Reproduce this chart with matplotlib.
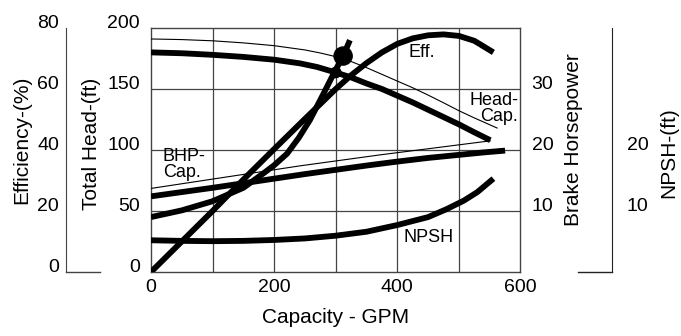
import matplotlib
matplotlib.use('Agg')
import matplotlib.pyplot as plt
from matplotlib.transforms import offset_copy

plt.rcParams['font.family'] = ['Liberation Sans', 'DejaVu Sans']

# pump data
head_flow = [0, 50, 100, 150, 200, 242, 270, 300, 325, 350, 375, 400, 425, 450, 475, 500, 525, 551]
head_ft = [180, 179.3, 178, 176.3, 174, 171, 168, 163.5, 159.5, 154.5, 150, 144.5, 139, 133, 127, 121, 114.5, 108]

head2_flow = [0, 50, 100, 150, 200, 250, 275, 300, 325, 350, 375, 400, 425, 450, 475, 500, 525, 562]
head2_ft = [191, 190.5, 189.5, 187.8, 185.5, 182, 179.5, 176.5, 172.5, 167.5, 162, 156.5, 151, 145, 138.7, 132.2, 126.3, 118]

bhp_flow = [0, 50, 100, 150, 200, 250, 300, 350, 400, 450, 500, 540, 575]
bhp_hp = [12.4, 13.1, 13.8, 14.55, 15.3, 16.05, 16.75, 17.45, 18.1, 18.7, 19.2, 19.6, 19.9]

bhp2_flow = [0, 242, 372, 551]
bhp2_hp = [13.7, 17.4, 19.2, 21.5]

eff_flow = [0, 50, 100, 150, 200, 250, 300, 325, 350, 375, 400, 425, 450, 475, 500, 525, 556]
eff_pct = [0, 10, 20, 30.3, 40.3, 50.2, 60, 64.5, 68.5, 72, 74.8, 76.6, 77.6, 77.9, 77.4, 75.8, 72]

sys_flow = [0, 50, 100, 150, 183, 200, 221, 240, 258, 280, 296, 312, 323]
sys_ft = [45, 50.5, 58, 69, 81, 87.5, 97, 110, 124.5, 146, 162, 177, 190]

npsh_flow = [0, 50, 100, 150, 200, 250, 300, 350, 400, 450, 480, 508, 530, 556]
npsh_ft = [5.2, 5.1, 5.05, 5.1, 5.25, 5.5, 5.95, 6.6, 7.7, 9.0, 10.3, 11.7, 13.1, 15.3]

op_flow = [300, 312]
op_head = [163.5, 177]
op_size = [55, 170]

head_ticks = [0, 50, 100, 150, 200]
flow_ticks = [0, 200, 400, 600]
flow_grid = [100, 200, 300, 400, 500]
eff_ticks = [0, 20, 40, 60, 80]
bhp_ticks = [10, 20, 30]
npsh_ticks = [10, 20]

fig = plt.figure(figsize=(6.81, 3.36), dpi=100)
ax = fig.add_axes([0.2217, 0.1905, 0.5426, 0.7262])
ax.set_xlim(0, 600)
ax.set_ylim(0, 200)

gc = '#444444'
for s in ax.spines.values():
    s.set_color(gc)
    s.set_linewidth(1.0)
for g in flow_grid:
    ax.axvline(g, color=gc, lw=0.9, zorder=1)
for g in head_ticks[1:-1]:
    ax.axhline(g, color=gc, lw=0.9, zorder=1)

ax.set_xticks(flow_ticks)
ax.set_yticks(head_ticks)
ax.tick_params(axis='y', length=0, labelsize=14, pad=8)
ax.tick_params(axis='x', length=0, labelsize=14, pad=5)
ax.set_xlabel('Capacity - GPM', fontsize=15, va='center')
ax.xaxis.set_label_coords(0.5, -0.185)
ax.set_ylabel('Total Head-(ft)', fontsize=15, va='center')
ax.yaxis.set_label_coords(-0.16, 0.525)

# twin scales
ax_bhp = ax.twinx()
ax_bhp.set_ylim(0, 40)
ax_bhp.set_yticks(bhp_ticks)
ax_bhp.tick_params(length=0, labelsize=14, pad=8)
for s in ax_bhp.spines.values():
    s.set_visible(False)
ax_bhp.set_ylabel('Brake Horsepower', fontsize=15, va='center')
ax_bhp.yaxis.set_label_coords(1.144, 0.541)

ax_eff = ax.twinx()
ax_eff.set_ylim(0, 80)
ax_eff.yaxis.set_ticks_position('left')
ax_eff.yaxis.set_label_position('left')
for k in ['top', 'bottom', 'right']:
    ax_eff.spines[k].set_visible(False)
ax_eff.spines['left'].set_position(('axes', -0.2304))
ax_eff.spines['left'].set_color(gc)
ax_eff.set_yticks(eff_ticks)
ax_eff.tick_params(length=0, labelsize=14, pad=5)
ax_eff.set_ylabel('Efficiency-(%)', fontsize=15, va='center')
ax_eff.yaxis.set_label_coords(-0.35, 0.541)
ax_eff.plot([-0.2304, -0.138], [0, 0], transform=ax_eff.transAxes,
            color=gc, lw=1.0, clip_on=False)

ax_npsh = ax.twinx()
ax_npsh.set_ylim(0, 40)
for k in ['top', 'bottom', 'left']:
    ax_npsh.spines[k].set_visible(False)
ax_npsh.spines['right'].set_position(('axes', 1.2466))
ax_npsh.spines['right'].set_color('#222222')
ax_npsh.set_yticks(npsh_ticks)
ax_npsh.tick_params(length=0, labelsize=14, pad=11)
ax_npsh.set_ylabel('NPSH-(ft)', fontsize=15, va='center')
ax_npsh.yaxis.set_label_coords(1.401, 0.488)
ax_npsh.plot([1.155, 1.2466], [0, 0], transform=ax_npsh.transAxes,
             color='#222222', lw=1.0, clip_on=False)

# tick labels sit a bit above their values
for a in [ax, ax_bhp, ax_eff, ax_npsh]:
    for t in a.yaxis.get_major_ticks():
        for lab in (t.label1, t.label2):
            lab.set_transform(offset_copy(lab.get_transform(), fig=fig, y=6, units='dots'))

# curves
thick = dict(color='black', lw=4.2, solid_capstyle='butt', solid_joinstyle='round', zorder=3)
thin = dict(color='black', lw=0.8, zorder=3)
ax.plot(head2_flow, head2_ft, **thin)
ax.plot(head_flow, head_ft, **thick)
ax_bhp.plot(bhp2_flow, bhp2_hp, **thin)
ax_bhp.plot(bhp_flow, bhp_hp, **thick)
ax_eff.plot(eff_flow, eff_pct, **thick)
ax.plot(sys_flow, sys_ft, **thick)
ax_npsh.plot(npsh_flow, npsh_ft, **thick)
ax.scatter(op_flow, op_head, s=op_size, color='black', zorder=4)

# curve labels
ax.text(418, 180, 'Eff.', fontsize=13, va='center', ha='left')
ax.text(596, 134, 'Head-\nCap.', fontsize=13, va='center', ha='right',
        multialignment='right', linespacing=0.9)
ax.text(19, 88, 'BHP-\nCap.', fontsize=13, va='center', ha='left', linespacing=0.9)
ax.text(410, 28, 'NPSH', fontsize=13, va='center', ha='left')

fig.savefig('out.png', dpi=100)
